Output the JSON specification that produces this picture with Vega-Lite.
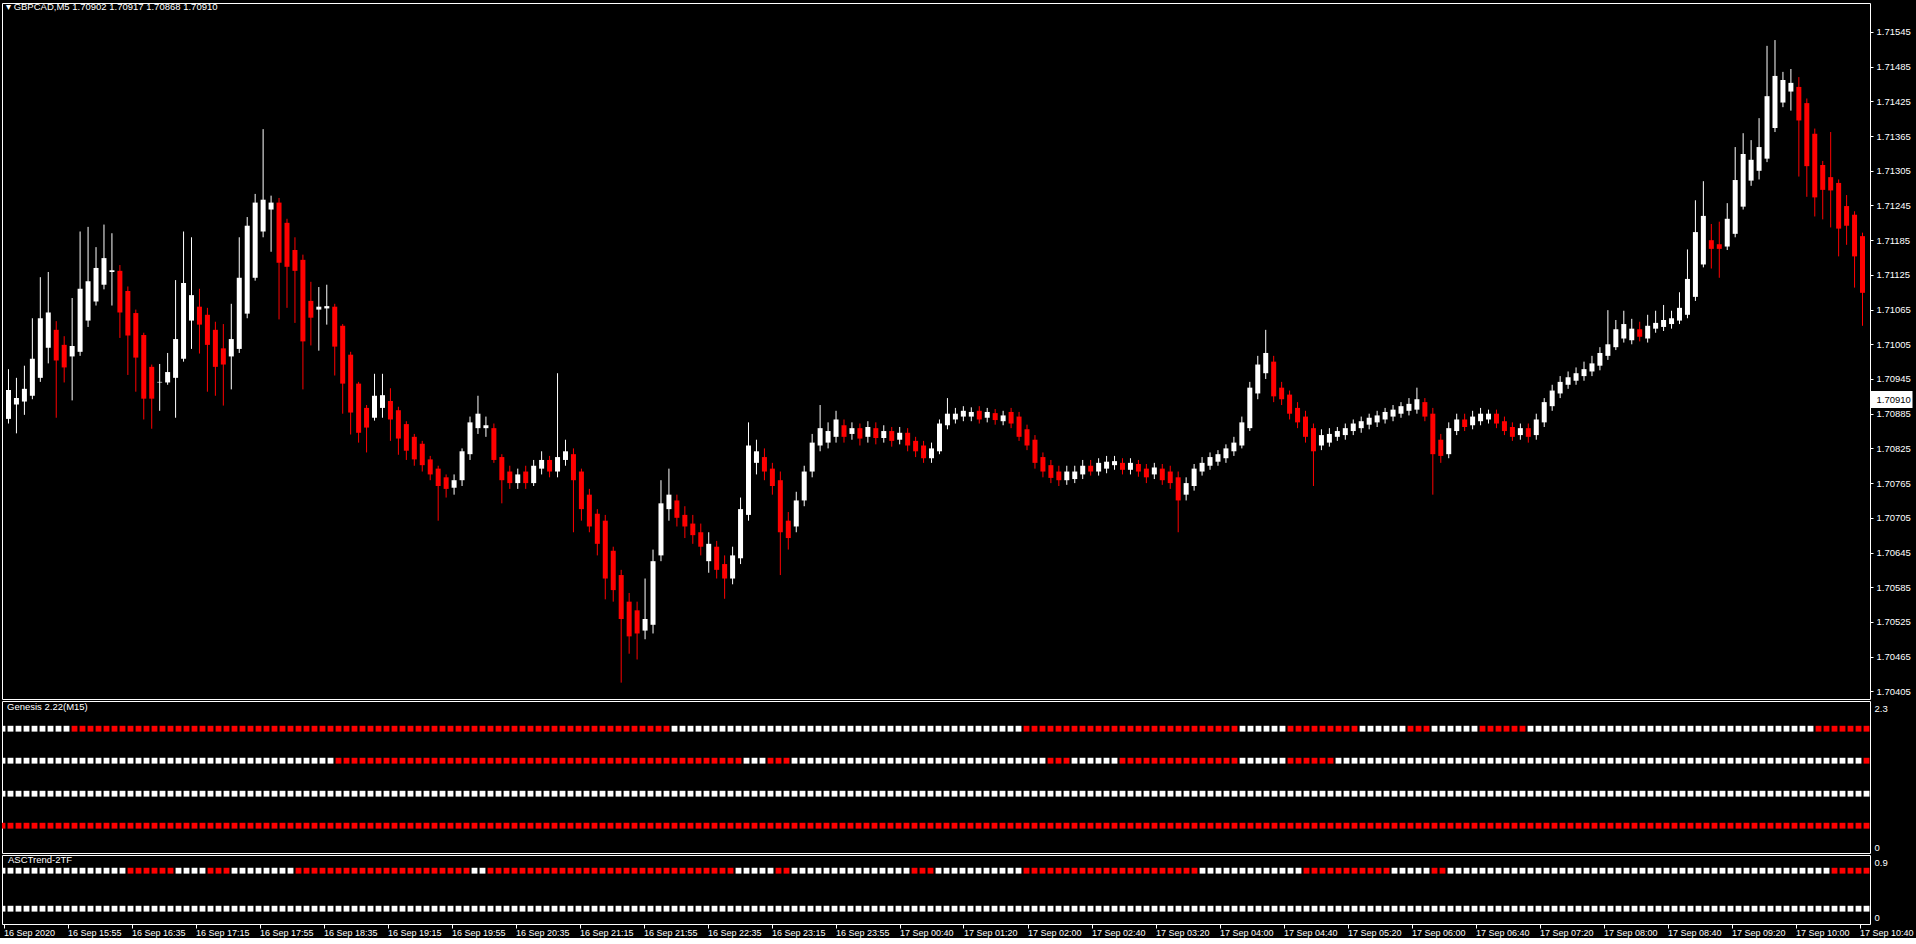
{
"$schema":"https://vega.github.io/schema/vega-lite/v6.json",
"background":"#000000",
"padding":{"left":1,"top":1,"right":0,"bottom":0},
"spacing":0,
"config":{
 "view":{"stroke":"#ffffff","strokeWidth":1,"fill":"#000000"},
 "axis":{"labelColor":"#ffffff","labelFont":"Liberation Sans","labelFontSize":9.5,"domainColor":"#ffffff","tickColor":"#ffffff","grid":false,"domain":false},
 "title":{"color":"#ffffff","font":"Liberation Sans","fontSize":9.5,"fontWeight":"normal","anchor":"start","frame":"group","baseline":"middle"}
},
"data":{"values":[
{"i":0,"o":1.70876,"h":1.70962,"l":1.70868,"c":1.70926,"g1":"W","g2":"W","a1":"W"},
{"i":1,"o":1.70901,"h":1.70947,"l":1.70851,"c":1.70912,"g1":"W","g2":"W","a1":"W"},
{"i":2,"o":1.70906,"h":1.70968,"l":1.70883,"c":1.70928,"g1":"W","g2":"W","a1":"W"},
{"i":3,"o":1.70916,"h":1.71050,"l":1.70910,"c":1.70980,"g1":"W","g2":"W","a1":"W"},
{"i":4,"o":1.70947,"h":1.71121,"l":1.70940,"c":1.71050,"g1":"W","g2":"W","a1":"W"},
{"i":5,"o":1.70999,"h":1.71130,"l":1.70972,"c":1.71060,"g1":"W","g2":"W","a1":"W"},
{"i":6,"o":1.71030,"h":1.71045,"l":1.70878,"c":1.70977,"g1":"W","g2":"W","a1":"W"},
{"i":7,"o":1.71004,"h":1.71019,"l":1.70939,"c":1.70965,"g1":"W","g2":"W","a1":"W"},
{"i":8,"o":1.70984,"h":1.71085,"l":1.70908,"c":1.71002,"g1":"W","g2":"W","a1":"W"},
{"i":9,"o":1.70992,"h":1.71200,"l":1.70985,"c":1.71101,"g1":"R","g2":"W","a1":"W"},
{"i":10,"o":1.71046,"h":1.71208,"l":1.71035,"c":1.71114,"g1":"R","g2":"W","a1":"W"},
{"i":11,"o":1.71079,"h":1.71173,"l":1.71072,"c":1.71137,"g1":"R","g2":"W","a1":"W"},
{"i":12,"o":1.71108,"h":1.71212,"l":1.71100,"c":1.71154,"g1":"R","g2":"W","a1":"W"},
{"i":13,"o":1.71130,"h":1.71197,"l":1.71072,"c":1.71133,"g1":"R","g2":"W","a1":"W"},
{"i":14,"o":1.71132,"h":1.71142,"l":1.71016,"c":1.71060,"g1":"R","g2":"W","a1":"W"},
{"i":15,"o":1.71097,"h":1.71105,"l":1.70952,"c":1.71020,"g1":"R","g2":"W","a1":"W"},
{"i":16,"o":1.71059,"h":1.71065,"l":1.70923,"c":1.70982,"g1":"R","g2":"W","a1":"R"},
{"i":17,"o":1.71021,"h":1.71025,"l":1.70875,"c":1.70911,"g1":"R","g2":"W","a1":"R"},
{"i":18,"o":1.70966,"h":1.70970,"l":1.70859,"c":1.70911,"g1":"R","g2":"W","a1":"R"},
{"i":19,"o":1.70939,"h":1.70971,"l":1.70890,"c":1.70940,"g1":"R","g2":"W","a1":"R"},
{"i":20,"o":1.70939,"h":1.70990,"l":1.70935,"c":1.70957,"g1":"R","g2":"W","a1":"R"},
{"i":21,"o":1.70947,"h":1.71116,"l":1.70878,"c":1.71014,"g1":"R","g2":"W","a1":"R"},
{"i":22,"o":1.70980,"h":1.71200,"l":1.70975,"c":1.71111,"g1":"R","g2":"W","a1":"W"},
{"i":23,"o":1.71046,"h":1.71190,"l":1.70997,"c":1.71090,"g1":"R","g2":"W","a1":"W"},
{"i":24,"o":1.71070,"h":1.71101,"l":1.70989,"c":1.71039,"g1":"R","g2":"W","a1":"W"},
{"i":25,"o":1.71056,"h":1.71068,"l":1.70923,"c":1.71004,"g1":"R","g2":"W","a1":"W"},
{"i":26,"o":1.71030,"h":1.71044,"l":1.70916,"c":1.70966,"g1":"R","g2":"W","a1":"R"},
{"i":27,"o":1.70998,"h":1.71040,"l":1.70899,"c":1.70970,"g1":"R","g2":"W","a1":"R"},
{"i":28,"o":1.70984,"h":1.71075,"l":1.70927,"c":1.71014,"g1":"R","g2":"W","a1":"R"},
{"i":29,"o":1.70997,"h":1.71190,"l":1.70990,"c":1.71120,"g1":"R","g2":"W","a1":"W"},
{"i":30,"o":1.71058,"h":1.71225,"l":1.71050,"c":1.71210,"g1":"R","g2":"W","a1":"W"},
{"i":31,"o":1.71120,"h":1.71265,"l":1.71115,"c":1.71250,"g1":"R","g2":"W","a1":"W"},
{"i":32,"o":1.71200,"h":1.71377,"l":1.71190,"c":1.71255,"g1":"R","g2":"W","a1":"W"},
{"i":33,"o":1.71238,"h":1.71262,"l":1.71165,"c":1.71250,"g1":"R","g2":"W","a1":"W"},
{"i":34,"o":1.71250,"h":1.71258,"l":1.71048,"c":1.71146,"g1":"R","g2":"W","a1":"W"},
{"i":35,"o":1.71215,"h":1.71222,"l":1.71068,"c":1.71139,"g1":"R","g2":"W","a1":"W"},
{"i":36,"o":1.71168,"h":1.71190,"l":1.71042,"c":1.71132,"g1":"R","g2":"W","a1":"W"},
{"i":37,"o":1.71151,"h":1.71160,"l":1.70927,"c":1.71010,"g1":"R","g2":"W","a1":"R"},
{"i":38,"o":1.71080,"h":1.71113,"l":1.71003,"c":1.71051,"g1":"R","g2":"W","a1":"R"},
{"i":39,"o":1.71065,"h":1.71104,"l":1.70994,"c":1.71070,"g1":"R","g2":"W","a1":"R"},
{"i":40,"o":1.71067,"h":1.71108,"l":1.71039,"c":1.71071,"g1":"R","g2":"W","a1":"R"},
{"i":41,"o":1.71070,"h":1.71075,"l":1.70951,"c":1.71001,"g1":"R","g2":"W","a1":"R"},
{"i":42,"o":1.71037,"h":1.71040,"l":1.70885,"c":1.70937,"g1":"R","g2":"R","a1":"R"},
{"i":43,"o":1.70987,"h":1.70992,"l":1.70849,"c":1.70887,"g1":"R","g2":"R","a1":"R"},
{"i":44,"o":1.70937,"h":1.70940,"l":1.70835,"c":1.70852,"g1":"R","g2":"R","a1":"R"},
{"i":45,"o":1.70895,"h":1.70900,"l":1.70818,"c":1.70861,"g1":"R","g2":"R","a1":"R"},
{"i":46,"o":1.70878,"h":1.70954,"l":1.70873,"c":1.70916,"g1":"R","g2":"R","a1":"R"},
{"i":47,"o":1.70895,"h":1.70954,"l":1.70878,"c":1.70917,"g1":"R","g2":"R","a1":"R"},
{"i":48,"o":1.70907,"h":1.70929,"l":1.70838,"c":1.70875,"g1":"R","g2":"R","a1":"R"},
{"i":49,"o":1.70891,"h":1.70897,"l":1.70814,"c":1.70842,"g1":"R","g2":"R","a1":"R"},
{"i":50,"o":1.70867,"h":1.70872,"l":1.70805,"c":1.70821,"g1":"R","g2":"R","a1":"R"},
{"i":51,"o":1.70845,"h":1.70850,"l":1.70795,"c":1.70806,"g1":"R","g2":"R","a1":"R"},
{"i":52,"o":1.70833,"h":1.70838,"l":1.70785,"c":1.70796,"g1":"R","g2":"R","a1":"R"},
{"i":53,"o":1.70806,"h":1.70812,"l":1.70770,"c":1.70780,"g1":"R","g2":"R","a1":"R"},
{"i":54,"o":1.70790,"h":1.70795,"l":1.70700,"c":1.70760,"g1":"R","g2":"R","a1":"R"},
{"i":55,"o":1.70775,"h":1.70780,"l":1.70740,"c":1.70755,"g1":"R","g2":"R","a1":"R"},
{"i":56,"o":1.70757,"h":1.70780,"l":1.70745,"c":1.70770,"g1":"R","g2":"R","a1":"R"},
{"i":57,"o":1.70770,"h":1.70825,"l":1.70760,"c":1.70820,"g1":"R","g2":"R","a1":"R"},
{"i":58,"o":1.70815,"h":1.70880,"l":1.70805,"c":1.70870,"g1":"R","g2":"R","a1":"R"},
{"i":59,"o":1.70860,"h":1.70916,"l":1.70850,"c":1.70885,"g1":"R","g2":"R","a1":"W"},
{"i":60,"o":1.70860,"h":1.70880,"l":1.70845,"c":1.70865,"g1":"R","g2":"R","a1":"W"},
{"i":61,"o":1.70860,"h":1.70868,"l":1.70800,"c":1.70805,"g1":"R","g2":"R","a1":"R"},
{"i":62,"o":1.70810,"h":1.70815,"l":1.70730,"c":1.70770,"g1":"R","g2":"R","a1":"R"},
{"i":63,"o":1.70785,"h":1.70795,"l":1.70755,"c":1.70765,"g1":"R","g2":"R","a1":"R"},
{"i":64,"o":1.70765,"h":1.70790,"l":1.70755,"c":1.70780,"g1":"R","g2":"R","a1":"R"},
{"i":65,"o":1.70785,"h":1.70795,"l":1.70755,"c":1.70765,"g1":"R","g2":"R","a1":"R"},
{"i":66,"o":1.70765,"h":1.70805,"l":1.70760,"c":1.70795,"g1":"R","g2":"R","a1":"R"},
{"i":67,"o":1.70790,"h":1.70820,"l":1.70780,"c":1.70805,"g1":"R","g2":"R","a1":"R"},
{"i":68,"o":1.70805,"h":1.70812,"l":1.70775,"c":1.70785,"g1":"R","g2":"R","a1":"R"},
{"i":69,"o":1.70785,"h":1.70955,"l":1.70775,"c":1.70810,"g1":"R","g2":"R","a1":"R"},
{"i":70,"o":1.70805,"h":1.70840,"l":1.70795,"c":1.70820,"g1":"R","g2":"R","a1":"R"},
{"i":71,"o":1.70815,"h":1.70825,"l":1.70680,"c":1.70770,"g1":"R","g2":"R","a1":"R"},
{"i":72,"o":1.70785,"h":1.70790,"l":1.70700,"c":1.70720,"g1":"R","g2":"R","a1":"R"},
{"i":73,"o":1.70745,"h":1.70755,"l":1.70680,"c":1.70690,"g1":"R","g2":"R","a1":"R"},
{"i":74,"o":1.70712,"h":1.70720,"l":1.70640,"c":1.70660,"g1":"R","g2":"R","a1":"R"},
{"i":75,"o":1.70700,"h":1.70710,"l":1.70564,"c":1.70600,"g1":"R","g2":"R","a1":"R"},
{"i":76,"o":1.70648,"h":1.70655,"l":1.70560,"c":1.70580,"g1":"R","g2":"R","a1":"R"},
{"i":77,"o":1.70606,"h":1.70615,"l":1.70420,"c":1.70530,"g1":"R","g2":"R","a1":"R"},
{"i":78,"o":1.70560,"h":1.70575,"l":1.70470,"c":1.70500,"g1":"R","g2":"R","a1":"R"},
{"i":79,"o":1.70545,"h":1.70560,"l":1.70460,"c":1.70505,"g1":"R","g2":"R","a1":"R"},
{"i":80,"o":1.70510,"h":1.70600,"l":1.70495,"c":1.70530,"g1":"R","g2":"R","a1":"R"},
{"i":81,"o":1.70520,"h":1.70650,"l":1.70505,"c":1.70630,"g1":"R","g2":"R","a1":"R"},
{"i":82,"o":1.70640,"h":1.70770,"l":1.70630,"c":1.70730,"g1":"R","g2":"R","a1":"R"},
{"i":83,"o":1.70720,"h":1.70790,"l":1.70700,"c":1.70745,"g1":"R","g2":"R","a1":"R"},
{"i":84,"o":1.70735,"h":1.70745,"l":1.70690,"c":1.70705,"g1":"W","g2":"R","a1":"R"},
{"i":85,"o":1.70710,"h":1.70725,"l":1.70670,"c":1.70690,"g1":"W","g2":"R","a1":"R"},
{"i":86,"o":1.70695,"h":1.70710,"l":1.70660,"c":1.70675,"g1":"W","g2":"R","a1":"R"},
{"i":87,"o":1.70680,"h":1.70695,"l":1.70640,"c":1.70655,"g1":"W","g2":"R","a1":"R"},
{"i":88,"o":1.70630,"h":1.70680,"l":1.70610,"c":1.70660,"g1":"W","g2":"R","a1":"R"},
{"i":89,"o":1.70655,"h":1.70665,"l":1.70600,"c":1.70615,"g1":"W","g2":"R","a1":"R"},
{"i":90,"o":1.70625,"h":1.70640,"l":1.70565,"c":1.70600,"g1":"W","g2":"R","a1":"R"},
{"i":91,"o":1.70600,"h":1.70655,"l":1.70590,"c":1.70640,"g1":"W","g2":"R","a1":"R"},
{"i":92,"o":1.70635,"h":1.70740,"l":1.70625,"c":1.70720,"g1":"W","g2":"R","a1":"W"},
{"i":93,"o":1.70710,"h":1.70870,"l":1.70700,"c":1.70830,"g1":"W","g2":"W","a1":"W"},
{"i":94,"o":1.70800,"h":1.70840,"l":1.70780,"c":1.70820,"g1":"W","g2":"W","a1":"W"},
{"i":95,"o":1.70810,"h":1.70825,"l":1.70770,"c":1.70785,"g1":"W","g2":"W","a1":"W"},
{"i":96,"o":1.70790,"h":1.70800,"l":1.70745,"c":1.70760,"g1":"W","g2":"R","a1":"W"},
{"i":97,"o":1.70770,"h":1.70785,"l":1.70606,"c":1.70680,"g1":"W","g2":"R","a1":"R"},
{"i":98,"o":1.70700,"h":1.70715,"l":1.70650,"c":1.70670,"g1":"W","g2":"R","a1":"R"},
{"i":99,"o":1.70690,"h":1.70750,"l":1.70680,"c":1.70735,"g1":"W","g2":"W","a1":"W"},
{"i":100,"o":1.70735,"h":1.70795,"l":1.70725,"c":1.70785,"g1":"W","g2":"W","a1":"W"},
{"i":101,"o":1.70785,"h":1.70850,"l":1.70775,"c":1.70835,"g1":"W","g2":"W","a1":"W"},
{"i":102,"o":1.70830,"h":1.70900,"l":1.70820,"c":1.70860,"g1":"W","g2":"W","a1":"W"},
{"i":103,"o":1.70835,"h":1.70870,"l":1.70825,"c":1.70855,"g1":"W","g2":"W","a1":"W"},
{"i":104,"o":1.70845,"h":1.70890,"l":1.70835,"c":1.70875,"g1":"W","g2":"W","a1":"W"},
{"i":105,"o":1.70865,"h":1.70875,"l":1.70835,"c":1.70845,"g1":"W","g2":"W","a1":"W"},
{"i":106,"o":1.70850,"h":1.70870,"l":1.70840,"c":1.70860,"g1":"W","g2":"W","a1":"W"},
{"i":107,"o":1.70860,"h":1.70868,"l":1.70830,"c":1.70842,"g1":"W","g2":"W","a1":"W"},
{"i":108,"o":1.70845,"h":1.70872,"l":1.70835,"c":1.70862,"g1":"W","g2":"W","a1":"W"},
{"i":109,"o":1.70860,"h":1.70870,"l":1.70832,"c":1.70843,"g1":"W","g2":"W","a1":"W"},
{"i":110,"o":1.70843,"h":1.70865,"l":1.70835,"c":1.70855,"g1":"W","g2":"W","a1":"W"},
{"i":111,"o":1.70855,"h":1.70862,"l":1.70828,"c":1.70838,"g1":"W","g2":"W","a1":"W"},
{"i":112,"o":1.70840,"h":1.70862,"l":1.70832,"c":1.70852,"g1":"W","g2":"W","a1":"W"},
{"i":113,"o":1.70852,"h":1.70860,"l":1.70820,"c":1.70830,"g1":"W","g2":"W","a1":"W"},
{"i":114,"o":1.70838,"h":1.70845,"l":1.70810,"c":1.70820,"g1":"W","g2":"W","a1":"R"},
{"i":115,"o":1.70830,"h":1.70838,"l":1.70800,"c":1.70808,"g1":"W","g2":"W","a1":"R"},
{"i":116,"o":1.70808,"h":1.70835,"l":1.70800,"c":1.70825,"g1":"W","g2":"W","a1":"R"},
{"i":117,"o":1.70820,"h":1.70875,"l":1.70815,"c":1.70868,"g1":"W","g2":"W","a1":"W"},
{"i":118,"o":1.70865,"h":1.70912,"l":1.70858,"c":1.70885,"g1":"W","g2":"W","a1":"W"},
{"i":119,"o":1.70875,"h":1.70895,"l":1.70868,"c":1.70885,"g1":"W","g2":"W","a1":"W"},
{"i":120,"o":1.70880,"h":1.70898,"l":1.70872,"c":1.70890,"g1":"W","g2":"W","a1":"W"},
{"i":121,"o":1.70880,"h":1.70896,"l":1.70872,"c":1.70888,"g1":"W","g2":"W","a1":"W"},
{"i":122,"o":1.70890,"h":1.70898,"l":1.70868,"c":1.70875,"g1":"W","g2":"W","a1":"W"},
{"i":123,"o":1.70878,"h":1.70895,"l":1.70870,"c":1.70888,"g1":"W","g2":"W","a1":"W"},
{"i":124,"o":1.70886,"h":1.70893,"l":1.70866,"c":1.70874,"g1":"W","g2":"W","a1":"W"},
{"i":125,"o":1.70872,"h":1.70890,"l":1.70865,"c":1.70882,"g1":"W","g2":"W","a1":"W"},
{"i":126,"o":1.70888,"h":1.70895,"l":1.70860,"c":1.70868,"g1":"W","g2":"W","a1":"W"},
{"i":127,"o":1.70880,"h":1.70888,"l":1.70838,"c":1.70845,"g1":"W","g2":"W","a1":"W"},
{"i":128,"o":1.70858,"h":1.70866,"l":1.70822,"c":1.70830,"g1":"R","g2":"W","a1":"R"},
{"i":129,"o":1.70840,"h":1.70848,"l":1.70790,"c":1.70800,"g1":"R","g2":"W","a1":"R"},
{"i":130,"o":1.70810,"h":1.70818,"l":1.70775,"c":1.70785,"g1":"R","g2":"W","a1":"R"},
{"i":131,"o":1.70796,"h":1.70805,"l":1.70765,"c":1.70774,"g1":"R","g2":"R","a1":"R"},
{"i":132,"o":1.70785,"h":1.70795,"l":1.70760,"c":1.70770,"g1":"R","g2":"R","a1":"R"},
{"i":133,"o":1.70770,"h":1.70795,"l":1.70762,"c":1.70785,"g1":"R","g2":"R","a1":"R"},
{"i":134,"o":1.70772,"h":1.70795,"l":1.70765,"c":1.70785,"g1":"R","g2":"W","a1":"R"},
{"i":135,"o":1.70780,"h":1.70805,"l":1.70772,"c":1.70795,"g1":"R","g2":"W","a1":"R"},
{"i":136,"o":1.70795,"h":1.70805,"l":1.70778,"c":1.70785,"g1":"R","g2":"W","a1":"R"},
{"i":137,"o":1.70785,"h":1.70808,"l":1.70778,"c":1.70800,"g1":"R","g2":"W","a1":"R"},
{"i":138,"o":1.70790,"h":1.70812,"l":1.70782,"c":1.70802,"g1":"R","g2":"W","a1":"R"},
{"i":139,"o":1.70796,"h":1.70812,"l":1.70788,"c":1.70803,"g1":"R","g2":"W","a1":"R"},
{"i":140,"o":1.70800,"h":1.70808,"l":1.70780,"c":1.70788,"g1":"R","g2":"R","a1":"R"},
{"i":141,"o":1.70788,"h":1.70808,"l":1.70780,"c":1.70800,"g1":"R","g2":"R","a1":"R"},
{"i":142,"o":1.70798,"h":1.70805,"l":1.70776,"c":1.70785,"g1":"R","g2":"R","a1":"R"},
{"i":143,"o":1.70790,"h":1.70798,"l":1.70765,"c":1.70775,"g1":"R","g2":"R","a1":"R"},
{"i":144,"o":1.70780,"h":1.70800,"l":1.70772,"c":1.70792,"g1":"R","g2":"R","a1":"R"},
{"i":145,"o":1.70790,"h":1.70798,"l":1.70762,"c":1.70770,"g1":"R","g2":"R","a1":"R"},
{"i":146,"o":1.70785,"h":1.70795,"l":1.70755,"c":1.70765,"g1":"R","g2":"R","a1":"R"},
{"i":147,"o":1.70775,"h":1.70785,"l":1.70680,"c":1.70735,"g1":"R","g2":"R","a1":"R"},
{"i":148,"o":1.70745,"h":1.70775,"l":1.70735,"c":1.70765,"g1":"R","g2":"R","a1":"R"},
{"i":149,"o":1.70760,"h":1.70798,"l":1.70752,"c":1.70790,"g1":"R","g2":"R","a1":"R"},
{"i":150,"o":1.70785,"h":1.70810,"l":1.70778,"c":1.70800,"g1":"R","g2":"R","a1":"W"},
{"i":151,"o":1.70795,"h":1.70818,"l":1.70788,"c":1.70810,"g1":"R","g2":"R","a1":"W"},
{"i":152,"o":1.70802,"h":1.70822,"l":1.70795,"c":1.70815,"g1":"R","g2":"R","a1":"W"},
{"i":153,"o":1.70808,"h":1.70832,"l":1.70800,"c":1.70825,"g1":"R","g2":"R","a1":"W"},
{"i":154,"o":1.70820,"h":1.70845,"l":1.70812,"c":1.70835,"g1":"R","g2":"R","a1":"W"},
{"i":155,"o":1.70830,"h":1.70880,"l":1.70825,"c":1.70870,"g1":"W","g2":"W","a1":"W"},
{"i":156,"o":1.70860,"h":1.70940,"l":1.70855,"c":1.70930,"g1":"W","g2":"W","a1":"W"},
{"i":157,"o":1.70920,"h":1.70985,"l":1.70910,"c":1.70970,"g1":"W","g2":"W","a1":"W"},
{"i":158,"o":1.70955,"h":1.71030,"l":1.70945,"c":1.70990,"g1":"W","g2":"W","a1":"W"},
{"i":159,"o":1.70975,"h":1.70985,"l":1.70905,"c":1.70915,"g1":"W","g2":"W","a1":"W"},
{"i":160,"o":1.70930,"h":1.70940,"l":1.70900,"c":1.70910,"g1":"W","g2":"W","a1":"W"},
{"i":161,"o":1.70918,"h":1.70925,"l":1.70875,"c":1.70885,"g1":"R","g2":"R","a1":"W"},
{"i":162,"o":1.70895,"h":1.70905,"l":1.70860,"c":1.70870,"g1":"R","g2":"R","a1":"W"},
{"i":163,"o":1.70880,"h":1.70890,"l":1.70835,"c":1.70845,"g1":"R","g2":"R","a1":"R"},
{"i":164,"o":1.70860,"h":1.70868,"l":1.70760,"c":1.70820,"g1":"R","g2":"R","a1":"R"},
{"i":165,"o":1.70830,"h":1.70858,"l":1.70822,"c":1.70848,"g1":"R","g2":"R","a1":"R"},
{"i":166,"o":1.70835,"h":1.70860,"l":1.70828,"c":1.70850,"g1":"R","g2":"R","a1":"R"},
{"i":167,"o":1.70845,"h":1.70862,"l":1.70838,"c":1.70855,"g1":"R","g2":"W","a1":"R"},
{"i":168,"o":1.70848,"h":1.70868,"l":1.70840,"c":1.70860,"g1":"R","g2":"W","a1":"R"},
{"i":169,"o":1.70855,"h":1.70875,"l":1.70848,"c":1.70868,"g1":"R","g2":"W","a1":"R"},
{"i":170,"o":1.70860,"h":1.70880,"l":1.70852,"c":1.70872,"g1":"W","g2":"W","a1":"R"},
{"i":171,"o":1.70866,"h":1.70885,"l":1.70858,"c":1.70878,"g1":"W","g2":"W","a1":"R"},
{"i":172,"o":1.70870,"h":1.70890,"l":1.70862,"c":1.70882,"g1":"W","g2":"W","a1":"R"},
{"i":173,"o":1.70875,"h":1.70895,"l":1.70868,"c":1.70888,"g1":"W","g2":"W","a1":"R"},
{"i":174,"o":1.70880,"h":1.70900,"l":1.70872,"c":1.70892,"g1":"W","g2":"W","a1":"W"},
{"i":175,"o":1.70885,"h":1.70905,"l":1.70878,"c":1.70898,"g1":"W","g2":"W","a1":"W"},
{"i":176,"o":1.70890,"h":1.70912,"l":1.70882,"c":1.70902,"g1":"R","g2":"W","a1":"W"},
{"i":177,"o":1.70892,"h":1.70930,"l":1.70885,"c":1.70910,"g1":"R","g2":"W","a1":"W"},
{"i":178,"o":1.70905,"h":1.70912,"l":1.70872,"c":1.70880,"g1":"R","g2":"W","a1":"W"},
{"i":179,"o":1.70885,"h":1.70895,"l":1.70745,"c":1.70815,"g1":"W","g2":"W","a1":"R"},
{"i":180,"o":1.70840,"h":1.70850,"l":1.70800,"c":1.70812,"g1":"W","g2":"W","a1":"R"},
{"i":181,"o":1.70815,"h":1.70870,"l":1.70808,"c":1.70860,"g1":"W","g2":"W","a1":"W"},
{"i":182,"o":1.70855,"h":1.70885,"l":1.70848,"c":1.70875,"g1":"W","g2":"W","a1":"W"},
{"i":183,"o":1.70875,"h":1.70885,"l":1.70855,"c":1.70862,"g1":"W","g2":"W","a1":"W"},
{"i":184,"o":1.70865,"h":1.70890,"l":1.70858,"c":1.70880,"g1":"W","g2":"W","a1":"W"},
{"i":185,"o":1.70872,"h":1.70895,"l":1.70865,"c":1.70885,"g1":"R","g2":"W","a1":"W"},
{"i":186,"o":1.70875,"h":1.70892,"l":1.70868,"c":1.70885,"g1":"R","g2":"W","a1":"W"},
{"i":187,"o":1.70885,"h":1.70892,"l":1.70860,"c":1.70868,"g1":"R","g2":"W","a1":"W"},
{"i":188,"o":1.70872,"h":1.70880,"l":1.70848,"c":1.70855,"g1":"R","g2":"W","a1":"W"},
{"i":189,"o":1.70862,"h":1.70870,"l":1.70838,"c":1.70845,"g1":"R","g2":"W","a1":"W"},
{"i":190,"o":1.70848,"h":1.70868,"l":1.70840,"c":1.70860,"g1":"R","g2":"W","a1":"W"},
{"i":191,"o":1.70860,"h":1.70868,"l":1.70835,"c":1.70845,"g1":"W","g2":"W","a1":"W"},
{"i":192,"o":1.70848,"h":1.70885,"l":1.70840,"c":1.70875,"g1":"W","g2":"W","a1":"W"},
{"i":193,"o":1.70870,"h":1.70912,"l":1.70862,"c":1.70905,"g1":"W","g2":"W","a1":"W"},
{"i":194,"o":1.70898,"h":1.70935,"l":1.70890,"c":1.70925,"g1":"W","g2":"W","a1":"W"},
{"i":195,"o":1.70920,"h":1.70950,"l":1.70912,"c":1.70940,"g1":"W","g2":"W","a1":"W"},
{"i":196,"o":1.70935,"h":1.70958,"l":1.70928,"c":1.70948,"g1":"W","g2":"W","a1":"W"},
{"i":197,"o":1.70942,"h":1.70965,"l":1.70935,"c":1.70955,"g1":"W","g2":"W","a1":"W"},
{"i":198,"o":1.70950,"h":1.70975,"l":1.70942,"c":1.70962,"g1":"W","g2":"W","a1":"W"},
{"i":199,"o":1.70958,"h":1.70985,"l":1.70950,"c":1.70972,"g1":"W","g2":"W","a1":"W"},
{"i":200,"o":1.70968,"h":1.71000,"l":1.70960,"c":1.70990,"g1":"W","g2":"W","a1":"W"},
{"i":201,"o":1.70985,"h":1.71064,"l":1.70978,"c":1.71005,"g1":"W","g2":"W","a1":"W"},
{"i":202,"o":1.71000,"h":1.71047,"l":1.70995,"c":1.71031,"g1":"W","g2":"W","a1":"W"},
{"i":203,"o":1.71015,"h":1.71063,"l":1.71008,"c":1.71040,"g1":"W","g2":"W","a1":"W"},
{"i":204,"o":1.71012,"h":1.71049,"l":1.71005,"c":1.71032,"g1":"W","g2":"W","a1":"W"},
{"i":205,"o":1.71031,"h":1.71044,"l":1.71010,"c":1.71018,"g1":"W","g2":"W","a1":"W"},
{"i":206,"o":1.71015,"h":1.71056,"l":1.71008,"c":1.71037,"g1":"W","g2":"W","a1":"W"},
{"i":207,"o":1.71032,"h":1.71063,"l":1.71025,"c":1.71042,"g1":"W","g2":"W","a1":"W"},
{"i":208,"o":1.71035,"h":1.71073,"l":1.71028,"c":1.71047,"g1":"W","g2":"W","a1":"W"},
{"i":209,"o":1.71040,"h":1.71063,"l":1.71032,"c":1.71050,"g1":"W","g2":"W","a1":"W"},
{"i":210,"o":1.71046,"h":1.71095,"l":1.71040,"c":1.71068,"g1":"W","g2":"W","a1":"W"},
{"i":211,"o":1.71056,"h":1.71169,"l":1.71050,"c":1.71118,"g1":"W","g2":"W","a1":"W"},
{"i":212,"o":1.71087,"h":1.71254,"l":1.71080,"c":1.71199,"g1":"W","g2":"W","a1":"W"},
{"i":213,"o":1.71143,"h":1.71287,"l":1.71138,"c":1.71227,"g1":"W","g2":"W","a1":"W"},
{"i":214,"o":1.71185,"h":1.71213,"l":1.71136,"c":1.71170,"g1":"W","g2":"W","a1":"W"},
{"i":215,"o":1.71178,"h":1.71217,"l":1.71120,"c":1.71170,"g1":"W","g2":"W","a1":"W"},
{"i":216,"o":1.71174,"h":1.71249,"l":1.71168,"c":1.71222,"g1":"W","g2":"W","a1":"W"},
{"i":217,"o":1.71196,"h":1.71346,"l":1.71190,"c":1.71289,"g1":"W","g2":"W","a1":"W"},
{"i":218,"o":1.71243,"h":1.71370,"l":1.71238,"c":1.71334,"g1":"W","g2":"W","a1":"W"},
{"i":219,"o":1.71288,"h":1.71358,"l":1.71279,"c":1.71324,"g1":"W","g2":"W","a1":"W"},
{"i":220,"o":1.71305,"h":1.71396,"l":1.71290,"c":1.71346,"g1":"W","g2":"W","a1":"W"},
{"i":221,"o":1.71326,"h":1.71521,"l":1.71320,"c":1.71434,"g1":"W","g2":"W","a1":"W"},
{"i":222,"o":1.71379,"h":1.71531,"l":1.71372,"c":1.71469,"g1":"W","g2":"W","a1":"W"},
{"i":223,"o":1.71423,"h":1.71476,"l":1.71415,"c":1.71462,"g1":"W","g2":"W","a1":"W"},
{"i":224,"o":1.71442,"h":1.71481,"l":1.71409,"c":1.71457,"g1":"W","g2":"W","a1":"W"},
{"i":225,"o":1.71450,"h":1.71467,"l":1.71295,"c":1.71392,"g1":"W","g2":"W","a1":"W"},
{"i":226,"o":1.71422,"h":1.71430,"l":1.71260,"c":1.71313,"g1":"W","g2":"W","a1":"W"},
{"i":227,"o":1.71369,"h":1.71378,"l":1.71226,"c":1.71259,"g1":"R","g2":"W","a1":"W"},
{"i":228,"o":1.71315,"h":1.71322,"l":1.71221,"c":1.71272,"g1":"R","g2":"W","a1":"W"},
{"i":229,"o":1.71294,"h":1.71372,"l":1.71207,"c":1.71271,"g1":"R","g2":"W","a1":"R"},
{"i":230,"o":1.71284,"h":1.71290,"l":1.71157,"c":1.71205,"g1":"R","g2":"W","a1":"R"},
{"i":231,"o":1.71244,"h":1.71263,"l":1.71177,"c":1.71210,"g1":"R","g2":"W","a1":"R"},
{"i":232,"o":1.71229,"h":1.71235,"l":1.71103,"c":1.71157,"g1":"R","g2":"W","a1":"R"},
{"i":233,"o":1.71192,"h":1.71198,"l":1.71037,"c":1.71094,"g1":"R","g2":"R","a1":"R"}
]},
"vconcat":[
 {
  "width":1868,"height":696,
  "title":{"text":"▾  GBPCAD,M5  1.70902 1.70917 1.70868 1.70910","offset":-8.7,"dx":4},
  "layer":[
   {"mark":{"type":"rule","strokeWidth":1,"clip":true},
    "encoding":{
     "x":{"field":"i","type":"quantitative","scale":{"domain":[-0.1875,233.3125],"nice":false,"zero":false},"axis":null},
     "y":{"field":"l","type":"quantitative","scale":{"domain":[1.703917,1.715951],"nice":false,"zero":false},
          "axis":{"orient":"right","title":null,"values":[1.70405,1.70465,1.70525,1.70585,1.70645,1.70705,1.70765,1.70825,1.70885,1.70945,1.71005,1.71065,1.71125,1.71185,1.71245,1.71305,1.71365,1.71425,1.71485,1.71545],"format":".5f","tickSize":3,"labelPadding":3}},
     "y2":{"field":"h"},
     "color":{"condition":{"test":"datum.c >= datum.o","value":"#ffffff"},"value":"#ff0000"}}},
   {"mark":{"type":"bar","width":5,"orient":"vertical","clip":true},
    "encoding":{
     "x":{"field":"i","type":"quantitative","axis":null},
     "y":{"field":"o","type":"quantitative","axis":null},
     "y2":{"field":"c"},
     "color":{"condition":{"test":"datum.c >= datum.o","value":"#ffffff"},"value":"#ff0000"}}},
   {"data":{"values":[{"p":1.7091}]},
    "mark":{"type":"rule","opacity":0},
    "encoding":{
     "y":{"field":"p","type":"quantitative",
          "axis":{"orient":"right","title":null,"values":[1.7091],"format":".5f","tickSize":42,"tickWidth":17,"tickColor":"#ffffff","labelColor":"#000000","labelPadding":-36}}}}
  ],
  "resolve":{"axis":{"y":"independent"}}
 },
 {
  "width":1868,"height":152,
  "title":{"text":"Genesis 2.22(M15)","offset":-10,"dx":5},
  "encoding":{"x":{"field":"i","type":"quantitative","scale":{"domain":[-0.1875,233.3125],"nice":false,"zero":false},"axis":null}},
  "layer":[
   {"mark":{"type":"square","size":34,"opacity":1,"xOffset":-1,"clip":true},
    "encoding":{
     "y":{"datum":1.9624,"type":"quantitative","scale":{"domain":[-0.0943,2.4208],"nice":false,"zero":false},"axis":{"orient":"right","title":null,"values":[0,2.3],"labelExpr":"datum.value == 0 ? '0' : '2.3'","ticks":false,"labelPadding":4}},
     "color":{"field":"g1","type":"nominal","scale":{"domain":["W","R"],"range":["#ffffff","#ff0000"]},"legend":null}}},
   {"mark":{"type":"square","size":34,"opacity":1,"xOffset":-1,"clip":true},
    "encoding":{
     "y":{"datum":1.4329,"type":"quantitative","axis":{"orient":"right","title":null,"values":[0,2.3],"labelExpr":"datum.value == 0 ? '0' : '2.3'","ticks":false,"labelPadding":4}},
     "color":{"field":"g2","type":"nominal","legend":null}}},
   {"mark":{"type":"square","size":34,"opacity":1,"xOffset":-1,"color":"#ffffff","clip":true},
    "encoding":{
     "y":{"datum":0.8868,"type":"quantitative","axis":{"orient":"right","title":null,"values":[0,2.3],"labelExpr":"datum.value == 0 ? '0' : '2.3'","ticks":false,"labelPadding":4}}}},
   {"mark":{"type":"square","size":34,"opacity":1,"xOffset":-1,"color":"#ff0000","clip":true},
    "encoding":{
     "y":{"datum":0.3573,"type":"quantitative","axis":{"orient":"right","title":null,"values":[0,2.3],"labelExpr":"datum.value == 0 ? '0' : '2.3'","ticks":false,"labelPadding":4}}}}
  ]
 },
 {
  "width":1868,"height":69,
  "title":{"text":"ASCTrend-2TF","offset":-9.5,"dx":6},
  "encoding":{"x":{"field":"i","type":"quantitative","scale":{"domain":[-0.1875,233.3125],"nice":false,"zero":false},
    "axis":{"orient":"bottom","title":null,"values":[0,8,16,24,32,40,48,56,64,72,80,88,96,104,112,120,128,136,144,152,160,168,176,184,192,200,208,216,224,232],
     "labelExpr":"['16 Sep 2020','16 Sep 15:55','16 Sep 16:35','16 Sep 17:15','16 Sep 17:55','16 Sep 18:35','16 Sep 19:15','16 Sep 19:55','16 Sep 20:35','16 Sep 21:15','16 Sep 21:55','16 Sep 22:35','16 Sep 23:15','16 Sep 23:55','17 Sep 00:40','17 Sep 01:20','17 Sep 02:00','17 Sep 02:40','17 Sep 03:20','17 Sep 04:00','17 Sep 04:40','17 Sep 05:20','17 Sep 06:00','17 Sep 06:40','17 Sep 07:20','17 Sep 08:00','17 Sep 08:40','17 Sep 09:20','17 Sep 10:00','17 Sep 10:40'][round(datum.value/8)]",
     "labelAlign":"left","labelDx":-1,"labelFontSize":9,"tickSize":4,"labelPadding":0,"labelFlush":false,"labelOverlap":false}}},
  "layer":[
   {"mark":{"type":"square","size":34,"opacity":1,"xOffset":-1,"clip":true},
    "encoding":{
     "y":{"datum":0.769,"type":"quantitative","scale":{"domain":[-0.1031,1.026],"nice":false,"zero":false},"axis":{"orient":"right","title":null,"values":[0,0.9],"labelExpr":"datum.value == 0 ? '0' : '0.9'","ticks":false,"labelPadding":4}},
     "color":{"field":"a1","type":"nominal","scale":{"domain":["W","R"],"range":["#ffffff","#ff0000"]},"legend":null}}},
   {"mark":{"type":"square","size":34,"opacity":1,"xOffset":-1,"color":"#ffffff","clip":true},
    "encoding":{
     "y":{"datum":0.1473,"type":"quantitative","axis":{"orient":"right","title":null,"values":[0,0.9],"labelExpr":"datum.value == 0 ? '0' : '0.9'","ticks":false,"labelPadding":4}}}}
  ]
 }
]
}
